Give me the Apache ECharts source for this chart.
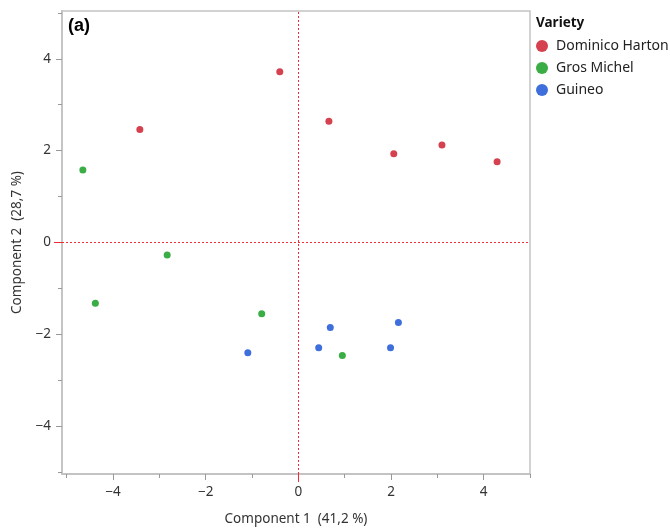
<!DOCTYPE html>
<html><head><meta charset="utf-8">
<script src="https://cdn.jsdelivr.net/npm/echarts@6/dist/echarts.min.js"></script>
<style>html,body{margin:0;padding:0;background:#fff}#c{width:670px;height:532px}</style>
</head><body><div id="c"></div>
<script>
const varieties = ['Dominico Harton', 'Gros Michel', 'Guineo'];
const dominicoHarton = [[-3.42, 2.46], [-0.40, 3.72], [0.66, 2.64], [2.06, 1.93], [3.10, 2.12], [4.29, 1.76]];
const grosMichel = [[-4.65, 1.58], [-2.83, -0.27], [-4.38, -1.32], [-0.79, -1.55], [0.95, -2.46]];
const guineo = [[-1.09, -2.40], [0.69, -1.85], [0.44, -2.29], [2.16, -1.74], [1.99, -2.29]];
const majorTicks = [-4, -2, 0, 2, 4];
const allTicks = [-5, -4, -3, -2, -1, 0, 1, 2, 3, 4, 5];
const zeroTick = [0];
const colors = ['#d5414e', '#3aad44', '#3e6fdc'];

const font = 'Noto Sans';
const chart = echarts.init(document.getElementById('c'), null, {renderer: 'canvas'});
const axisBase = (pos, min, max, name, nameGap, withLabel, tickLen, vals, tickColor) => ({
  type: 'value', position: pos, offset: 0, min, max, name: withLabel ? name : '', nameLocation: 'middle', nameGap,
  nameTextStyle: {fontFamily: font, fontSize: 13.5, color: '#333'},
  axisLine: {show: true, onZero: false, lineStyle: {color: '#c4c4c4', width: 1.5}},
  axisTick: {show: true, length: tickLen, customValues: vals, lineStyle: {color: tickColor || '#999'}},
  axisLabel: {show: withLabel, customValues: majorTicks, fontFamily: font, fontSize: 13.5, color: '#333', margin: 11,
    formatter: v => String(v).replace('-', '\u2212')},
  splitLine: {show: false}
});
const option = {
  animation: false,
  grid: {left: 62, right: 140, top: 11, bottom: 58, show: true, borderColor: '#c4c4c4', borderWidth: 1.5},
  title: {text: 'Variety', left: 531, top: 11, textStyle: {fontFamily: font, fontSize: 13.5, fontWeight: 'bold', color: '#111'}},
  legend: {orient: 'vertical', left: 531, top: 34, itemGap: 8, itemWidth: 12, itemHeight: 12, icon: 'circle',
    data: varieties, textStyle: {fontFamily: font, fontSize: 14, color: '#222', padding: [0, 0, 0, 3]}},
  graphic: [{type: 'text', left: 68, top: 17, style: {text: '(a)', font: 'bold 18px Liberation Sans', fill: '#000'}}],
  xAxis: [
    axisBase('bottom', -5.1, 5.0, 'Component 1  (41,2 %)', 38, true, 6, majorTicks),
    axisBase('bottom', -5.1, 5.0, '', 38, false, 4, allTicks),
    axisBase('bottom', -5.1, 5.0, '', 38, false, 8, zeroTick, '#ee2b36')
  ],
  yAxis: [
    axisBase('left', -5.04, 5.04, 'Component 2  (28,7 %)', 34, true, 6, majorTicks),
    axisBase('left', -5.04, 5.04, '', 34, false, 4, allTicks),
    axisBase('left', -5.04, 5.04, '', 34, false, 8, zeroTick, '#ee2b36')
  ],
  series: [
    {name: varieties[0], type: 'scatter', data: dominicoHarton, symbolSize: 7, itemStyle: {color: colors[0], opacity: 1},
      markLine: {silent: true, symbol: 'none', label: {show: false},
        lineStyle: {color: '#ee2b36', type: [2, 2], width: 1},
        data: [{xAxis: 0}, {yAxis: 0}]}},
    {name: varieties[1], type: 'scatter', data: grosMichel, symbolSize: 7, itemStyle: {color: colors[1], opacity: 1}},
    {name: varieties[2], type: 'scatter', data: guineo, symbolSize: 7, itemStyle: {color: colors[2], opacity: 1}}
  ]
};
chart.setOption(option);
</script></body></html>
